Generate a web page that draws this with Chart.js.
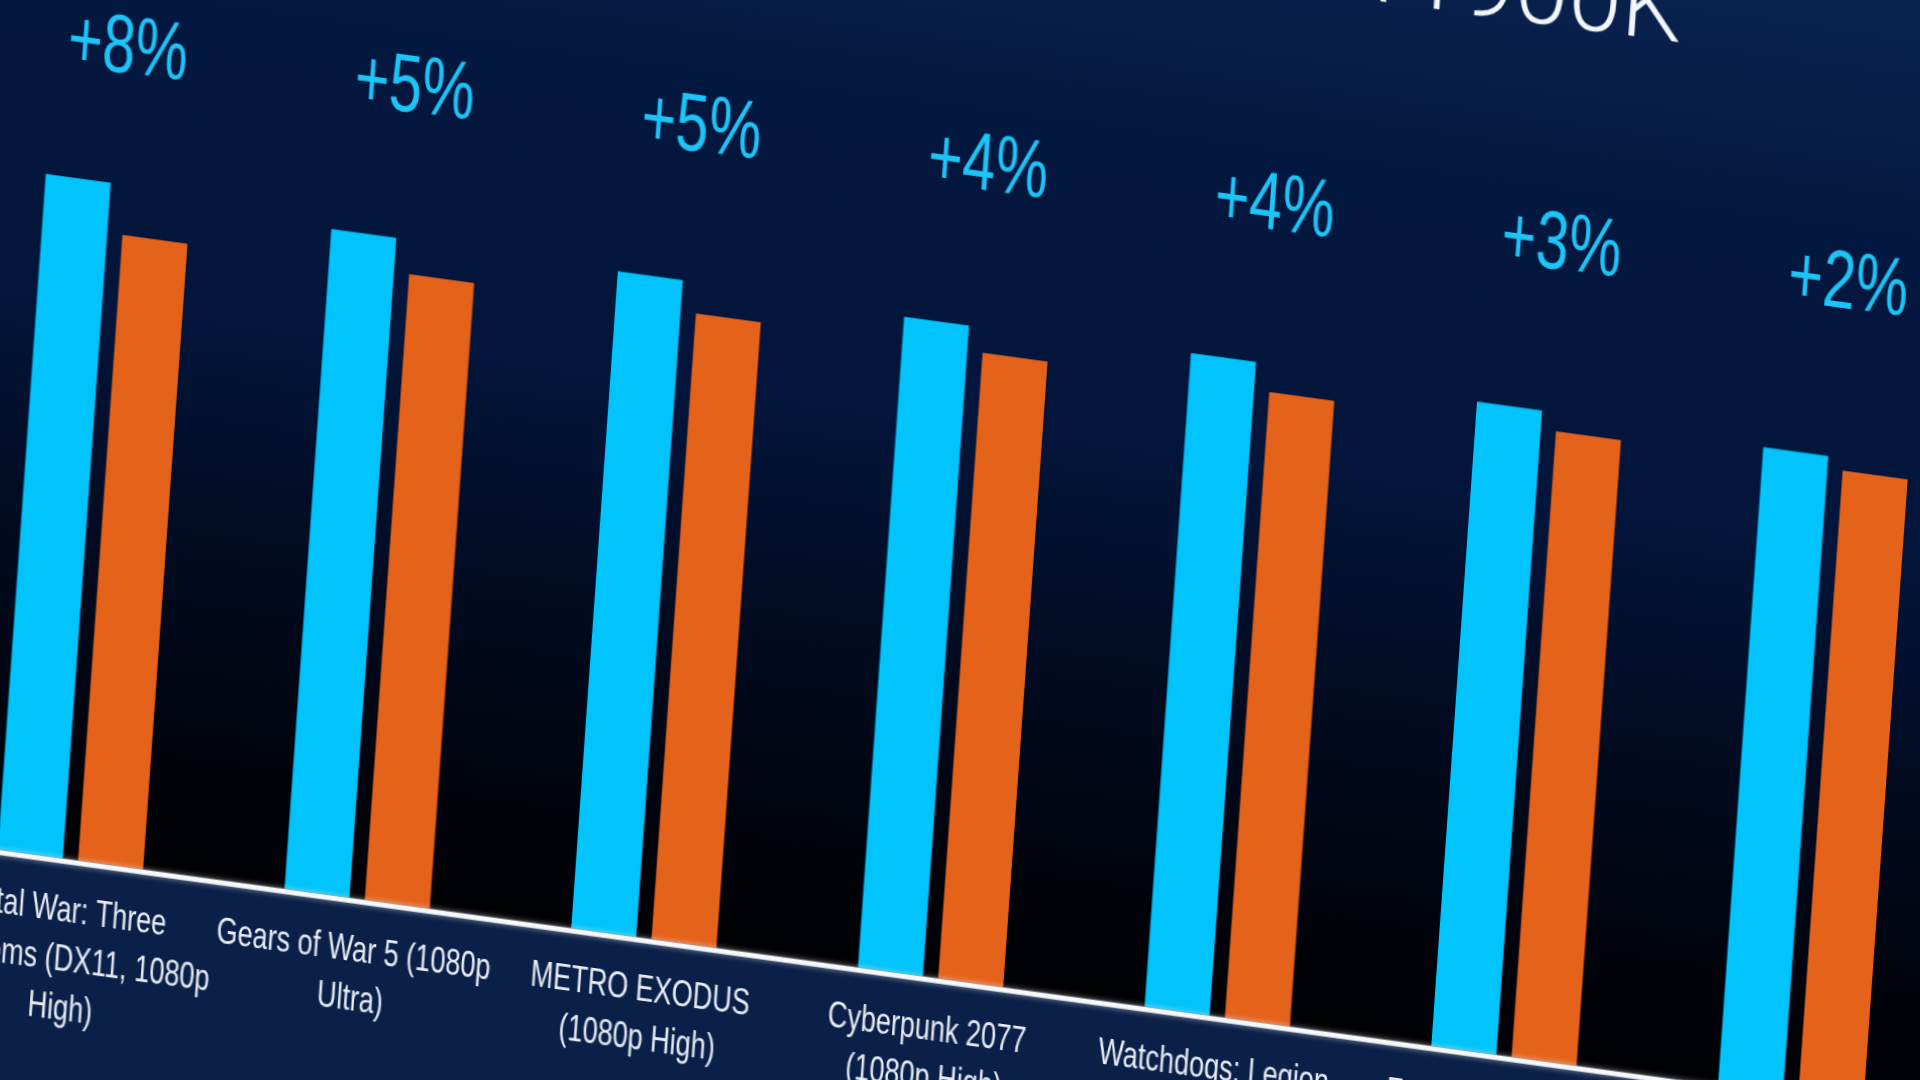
<!DOCTYPE html>
<html>
<head>
<meta charset="utf-8">
<title>Gaming performance</title>
<script src="https://cdn.jsdelivr.net/npm/chart.js@4.4.1/dist/chart.umd.min.js"></script>
<style>
    html, body {
        margin: 0;
        padding: 0;
        width: 1920px;
        height: 1080px;
        overflow: hidden;
        background: #0a2048;
    }
    /* the slide is photographed at an angle: shear it both ways */
    #slide {
        position: absolute;
        left: -113px;
        top: -300px;
        width: 2200px;
        height: 1400px;
        transform: matrix(1, 0.137, -0.071, 1, 0, 0);
        transform-origin: 113px 300px;
    }
</style>
</head>
<body>
<div id="slide"><canvas id="gamingChart"></canvas></div>
<script>
// Games (x axis labels, already wrapped into lines)
const games = [
    ['Total War: Three', 'Kingdoms (DX11, 1080p', 'High)'],
    ['Gears of War 5 (1080p', 'Ultra)'],
    ['METRO EXODUS', '(1080p High)'],
    ['Cyberpunk 2077', '(1080p High)'],
    ['Watchdogs: Legion', '(1080p High)'],
    ['Far Cry New Dawn', '(1080p High)'],
    ['Hitman 3', '(1080p High)']
];

// Relative performance, older chip = 1.00
const newChip = [1.08, 1.055, 1.05, 1.04, 1.045, 1.03, 1.02];
const oldChip = [1.00, 1.00, 1.00, 1.00, 1.00, 1.00, 1.00];

const titleText = 'Intel® Core™ i9-11900K';

const slideFont = "'Liberation Sans', Arial, sans-serif";

// Background: navy slide, fading to black towards the baseline
const slideBackground = {
    id: 'slideBackground',
    beforeDraw(chart) {
        const { ctx, chartArea: a } = chart;
        ctx.save();
        ctx.fillStyle = '#0a2048';
        ctx.fillRect(0, 0, chart.width, chart.height);
        const g = ctx.createLinearGradient(0, 0, 0, a.bottom);
        g.addColorStop(0, '#0b2552');
        g.addColorStop(0.26, '#031840');
        g.addColorStop(0.52, '#03153a');
        g.addColorStop(0.74, '#020a1e');
        g.addColorStop(0.92, '#01030a');
        g.addColorStop(1, '#000104');
        ctx.fillStyle = g;
        ctx.fillRect(0, 0, chart.width, a.bottom);
        ctx.restore();
    }
};

// White baseline, game names, gain labels and the title
const slideOverlay = {
    id: 'slideOverlay',
    afterDatasetsDraw(chart) {
        const { ctx, chartArea: a } = chart;
        const x = chart.scales.x;
        const y = chart.scales.y;

        ctx.save();
        ctx.strokeStyle = '#f6f8fc';
        ctx.lineWidth = 5;
        ctx.shadowColor = 'rgba(255, 255, 255, 0.55)';
        ctx.shadowBlur = 6;
        ctx.beginPath();
        ctx.moveTo(0, a.bottom + 2.5);
        ctx.lineTo(chart.width, a.bottom + 2.5);
        ctx.stroke();
        ctx.restore();

        // game names under each pair (condensed like the slide font)
        ctx.save();
        ctx.fillStyle = '#e8edf6';
        ctx.font = '37px ' + slideFont;
        ctx.textAlign = 'center';
        ctx.textBaseline = 'middle';
        games.forEach((lines, i) => {
            lines.forEach((line, k) => {
                ctx.save();
                ctx.translate(x.getPixelForValue(i), a.bottom + 52 + k * 49);
                ctx.scale(0.73, 1);
                ctx.fillText(line, 0, 0);
                ctx.restore();
            });
        });
        ctx.restore();

        // "+8%" etc. above each pair
        ctx.save();
        ctx.fillStyle = '#1cc5f8';
        ctx.font = '82px ' + slideFont;
        ctx.textAlign = 'center';
        ctx.textBaseline = 'middle';
        const labelY = y.getPixelForValue(1.293);
        games.forEach((g, i) => {
            const gain = Math.round((newChip[i] / oldChip[i] - 1) * 100);
            ctx.save();
            ctx.translate(x.getPixelForValue(i), labelY);
            ctx.scale(0.72, 1);
            ctx.fillText('+' + gain + '%', 0, 0);
            ctx.restore();
        });
        ctx.restore();

        // title, mostly cut off by the top of the photo
        ctx.save();
        ctx.fillStyle = '#f2f5fa';
        ctx.font = '300 96px Roboto, sans-serif';
        ctx.textAlign = 'right';
        ctx.textBaseline = 'alphabetic';
        ctx.fillText(titleText, 1780, 114);
        ctx.restore();
    }
};

const ctx = document.getElementById('gamingChart').getContext('2d');
const gamingChart = new Chart(ctx, {
    type: 'bar',
    data: {
        labels: games,
        datasets: [{
            label: 'i9-11900K',
            data: newChip,
            backgroundColor: '#00c4fb',
            categoryPercentage: 0.56,
            barPercentage: 0.81
        }, {
            label: 'Competitor',
            data: oldChip,
            backgroundColor: '#e5621b',
            categoryPercentage: 0.56,
            barPercentage: 0.81
        }]
    },
    options: {
        responsive: true,
        maintainAspectRatio: false,
        animation: false,
        layout: {
            padding: { top: 203.2, left: 99.8, right: 93.3, bottom: 0 }
        },
        plugins: {
            legend: { display: false },
            tooltip: { enabled: false },
            title: { display: false }
        },
        scales: {
            y: {
                display: false,
                min: 0,
                max: 1.5
            },
            x: {
                grid: { display: false, drawTicks: false },
                border: { display: false },
                ticks: { display: false },
                afterFit(scale) {
                    scale.height = 258.2;
                    scale.paddingLeft = 0;
                    scale.paddingRight = 0;
                }
            }
        }
    },
    plugins: [slideBackground, slideOverlay]
});
</script>
</body>
</html>
